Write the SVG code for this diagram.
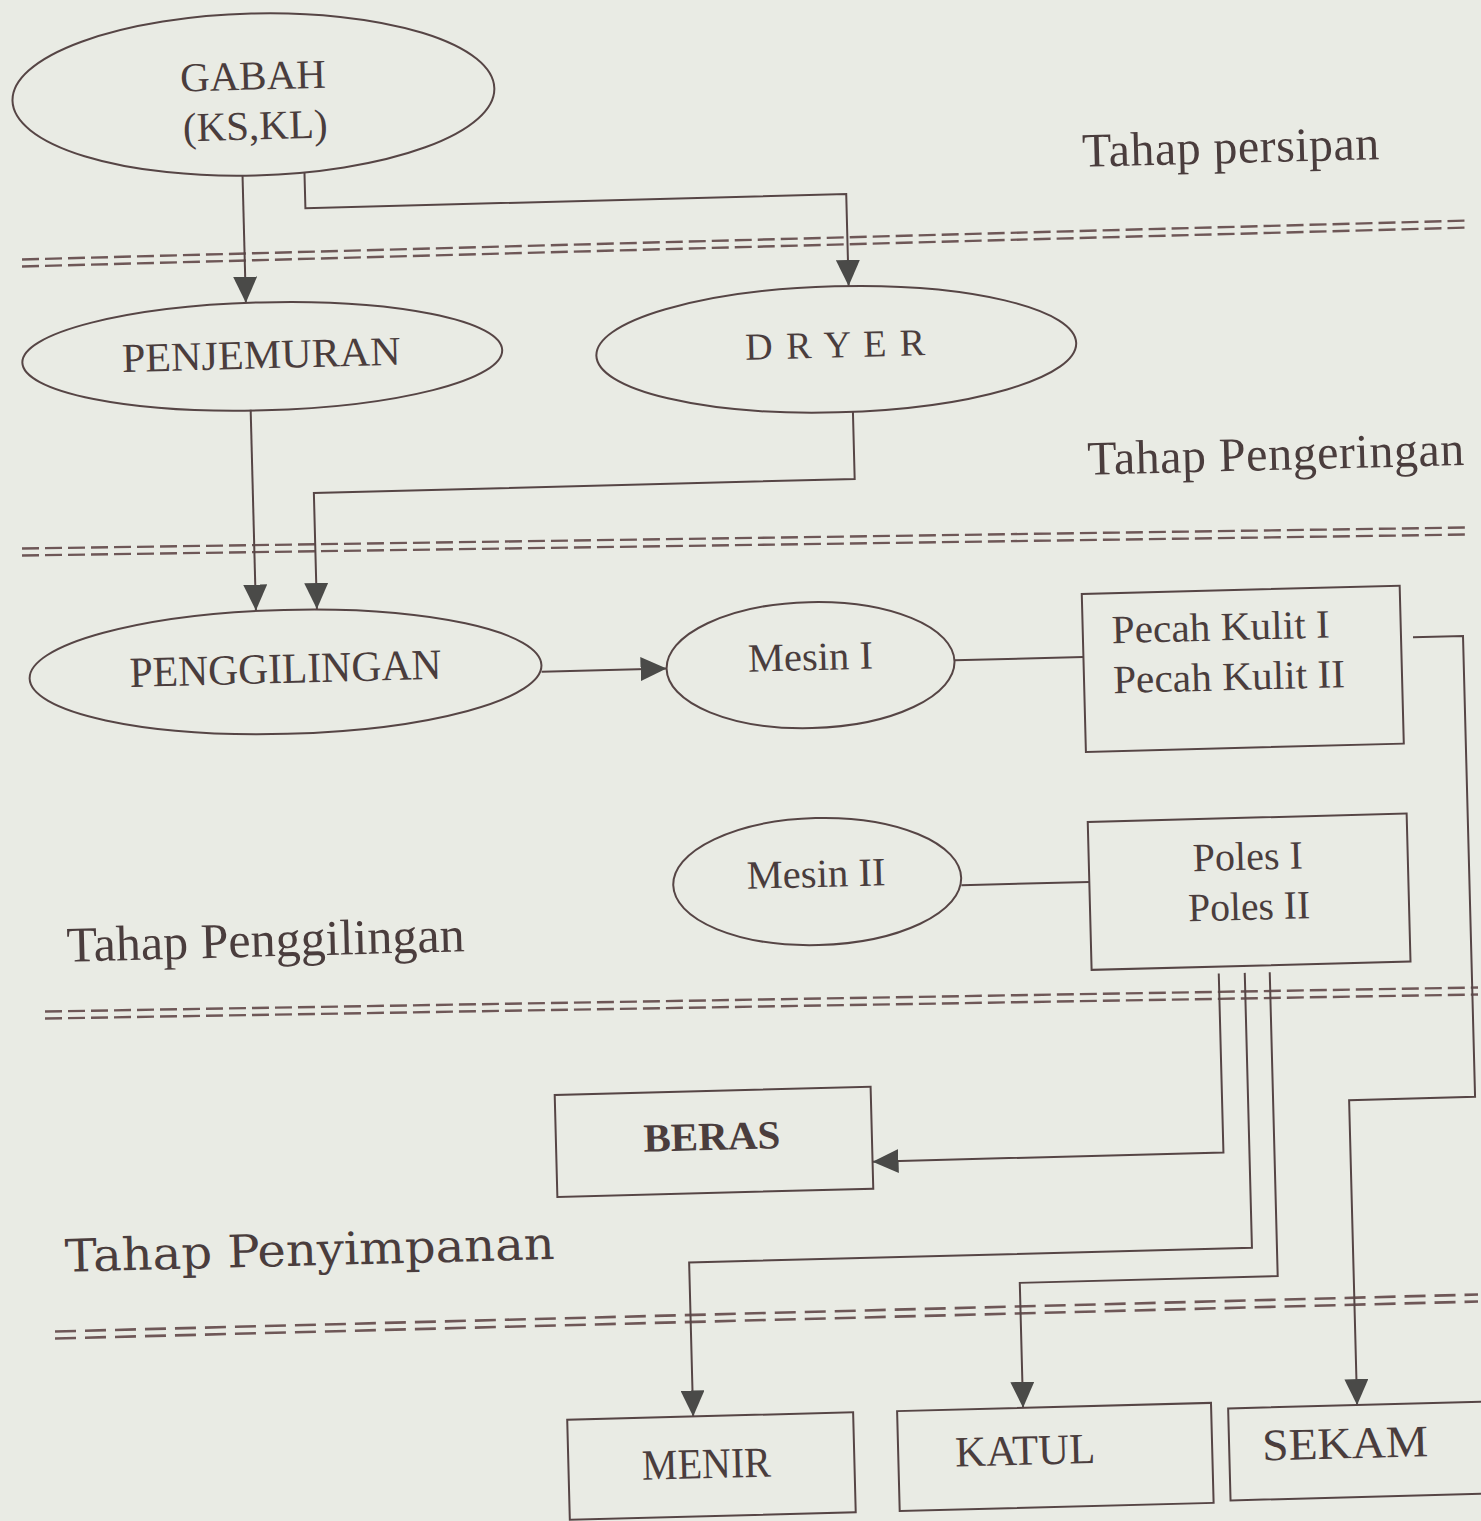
<svg xmlns="http://www.w3.org/2000/svg" width="1481" height="1521" viewBox="0 0 1481 1521">
<style>
.bg{fill:#e9ebe4}
.node{fill:none;stroke:#564545;stroke-width:2}
.conn{fill:none;stroke:#564545;stroke-width:2}
.dash{fill:none;stroke:#6e5757;stroke-width:2.4;stroke-dasharray:17 6}
.dash2{fill:none;stroke:#6e5757;stroke-width:2.6;stroke-dasharray:21 9}
.t{font-family:"Liberation Serif","Times New Roman",serif;fill:#4a3d3d;font-size:40px}
.mid{text-anchor:middle}
.lab{font-family:"Liberation Serif","Times New Roman",serif;fill:#4a3d3d;font-size:48px}
</style>
<defs>
<marker id="arr" markerUnits="userSpaceOnUse" markerWidth="26" markerHeight="24" refX="26" refY="12" orient="auto" viewBox="0 0 26 24">
<path d="M0,0 L26,12 L0,24 Z" fill="#4a4a48"/>
</marker>
</defs>
<rect class="bg" x="0" y="0" width="1481" height="1521"/>
<g id="separators">
<path class="dash" d="M22,259.5 L1470,220.5 M22,266.5 L1470,227.5"/>
<path class="dash" d="M22,548.5 L1470,527.5 M22,555.5 L1470,534.5"/>
<path class="dash" d="M45,1011.5 L1478,987.5 M45,1018.5 L1478,994.5"/>
<path class="dash2" d="M55,1331.5 L1478,1294.5 M55,1338.5 L1478,1301.5"/>
</g>
<g transform="rotate(-1.5 740 760)">
<g id="labels">
<text class="lab" x="1098" y="176" textLength="297">Tahap persipan</text>
<text class="lab" x="1095" y="484" textLength="377">Tahap Pengeringan</text>
<text class="lab" x="62" y="944" textLength="398" lengthAdjust="spacingAndGlyphs" style="font-size:50px">Tahap Penggilingan</text>
<text x="52" y="1254" textLength="490" lengthAdjust="spacingAndGlyphs" style="font-family:'DejaVu Serif',serif;font-size:45px;fill:#4a3d3d">Tahap Penyimpanan</text>
</g>
<g id="connectors">
<path class="conn" d="M258,163 V290" marker-end="url(#arr)"/>
<path class="conn" d="M320,161 V197 H861 V289" marker-end="url(#arr)"/>
<path class="conn" d="M260,397 V598" marker-end="url(#arr)"/>
<path class="conn" d="M862,415 V482 H321 V598" marker-end="url(#arr)"/>
<path class="conn" d="M544,666.5 H669" marker-end="url(#arr)"/>
<path class="conn" d="M957,666 H1086"/>
<path class="conn" d="M958,891 H1086"/>
<path class="conn" d="M1416,655 H1466 V1116 H1340 V1421" marker-end="url(#arr)"/>
<path class="conn" d="M1213,986 V1165 H862" marker-end="url(#arr)"/>
<path class="conn" d="M1239,986 V1261 H676 V1415" marker-end="url(#arr)"/>
<path class="conn" d="M1264,986 V1290 H1006 V1415" marker-end="url(#arr)"/>
</g>
<g id="gabah">
<ellipse class="node" cx="271" cy="82" rx="241" ry="81"/>
<text class="t mid" x="271" y="77" style="font-size:41px">GABAH</text>
<text class="t mid" x="272" y="127" style="font-size:41px">(KS,KL)</text>
</g>
<g id="penjemuran">
<ellipse class="node" cx="273" cy="344" rx="240" ry="54"/>
<text class="t mid" x="272" y="356" textLength="279" lengthAdjust="spacingAndGlyphs" style="font-size:41px">PENJEMURAN</text>
</g>
<g id="dryer">
<ellipse class="node" cx="847" cy="352" rx="240" ry="63"/>
<text class="t mid" x="846" y="360" textLength="180" style="font-size:38px">D R Y E R</text>
</g>
<g id="penggilingan">
<ellipse class="node" cx="288" cy="660" rx="256" ry="62"/>
<text class="t mid" x="288" y="671" textLength="312" lengthAdjust="spacingAndGlyphs" style="font-size:43px">PENGGILINGAN</text>
</g>
<g id="mesin1">
<ellipse class="node" cx="813" cy="667" rx="144" ry="63"/>
<text class="t mid" x="813" y="672" textLength="125" lengthAdjust="spacingAndGlyphs">Mesin I</text>
</g>
<g id="pecahkulit">
<rect class="node" x="1086" y="603" width="318" height="158"/>
<text class="t" x="1115" y="653" textLength="218" lengthAdjust="spacingAndGlyphs">Pecah Kulit I</text>
<text class="t" x="1115" y="703" textLength="232" lengthAdjust="spacingAndGlyphs">Pecah Kulit II</text>
</g>
<g id="mesin2">
<ellipse class="node" cx="814" cy="883.5" rx="144" ry="63.5"/>
<text class="t mid" x="813" y="889" textLength="139" lengthAdjust="spacingAndGlyphs">Mesin II</text>
</g>
<g id="poles">
<rect class="node" x="1086" y="831" width="319" height="148"/>
<text class="t mid" x="1245" y="883" textLength="110" lengthAdjust="spacingAndGlyphs">Poles I</text>
<text class="t mid" x="1245" y="933" textLength="122" lengthAdjust="spacingAndGlyphs">Poles II</text>
</g>
<g id="beras">
<rect class="node" x="546" y="1090" width="316" height="102"/>
<text class="t mid" x="702" y="1149" textLength="137" lengthAdjust="spacingAndGlyphs" style="font-weight:bold;font-size:40px">BERAS</text>
</g>
<g id="menir">
<rect class="node" x="550" y="1415" width="286" height="100"/>
<text class="t mid" x="688" y="1477" textLength="129" lengthAdjust="spacingAndGlyphs" style="font-size:43px">MENIR</text>
</g>
<g id="katul">
<rect class="node" x="880" y="1415" width="314" height="100"/>
<text class="t mid" x="1007" y="1472" textLength="140" lengthAdjust="spacingAndGlyphs" style="font-size:43px">KATUL</text>
</g>
<g id="sekam">
<rect class="node" x="1211" y="1421" width="300" height="92"/>
<text class="t mid" x="1327" y="1474" textLength="166" lengthAdjust="spacingAndGlyphs" style="font-size:45px">SEKAM</text>
</g>
</g>
</svg>
